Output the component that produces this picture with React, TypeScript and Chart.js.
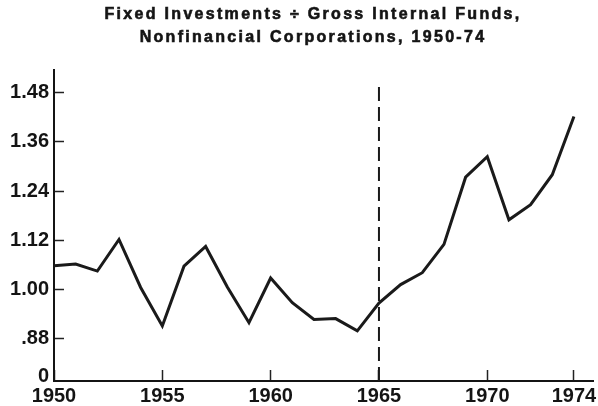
import React, { useEffect, useRef } from 'react';
import { Chart, registerables } from 'chart.js';

Chart.register(...registerables);

// ---- Data ----
const years = [
  1950, 1951, 1952, 1953, 1954, 1955, 1956, 1957, 1958, 1959,
  1960, 1961, 1962, 1963, 1964, 1965, 1966, 1967, 1968, 1969,
  1970, 1971, 1972, 1973, 1974,
];
const ratio = [
  1.058, 1.062, 1.045, 1.122, 1.005, 0.911, 1.057, 1.105, 1.006, 0.919,
  1.028, 0.968, 0.927, 0.929, 0.899, 0.967, 1.012, 1.041, 1.110, 1.274,
  1.324, 1.170, 1.207, 1.280, 1.422,
];
const xTickValues = [1950, 1955, 1960, 1965, 1970, 1974];
const yTickValues = [0.789, 0.88, 1.0, 1.12, 1.24, 1.36, 1.48];
const yTickLabels = ['0', '.88', '1.00', '1.12', '1.24', '1.36', '1.48'];
const markerYear = 1965;
const markerRange = [0.7768, 1.504];
const titleLines = [
  'Fixed Investments \u00F7 Gross Internal Funds,',
  'Nonfinancial Corporations, 1950-74',
];

const Y_MIN = 0.7768;
const Y_MAX = 1.5355;
const X_MIN = 1950;
const X_MAX = 1974.88;

const FONT = '"Liberation Sans", Arial, Helvetica, sans-serif';
const INK = '#141414';

const spacedTitle = {
  id: 'spacedTitle',
  afterDraw(chart: any) {
    const ctx = chart.ctx as CanvasRenderingContext2D;
    ctx.save();
    ctx.fillStyle = INK;
    ctx.strokeStyle = INK;
    ctx.lineWidth = 0.6;
    ctx.font = `bold 16px ${FONT}`;
    (ctx as any).letterSpacing = '2.3px';
    ctx.textAlign = 'center';
    ctx.textBaseline = 'alphabetic';
    const cx = 313;
    const ys = [18.5, 41.5];
    titleLines.forEach((t, i) => {
      ctx.fillText(t, cx, ys[i]);
      ctx.strokeText(t, cx, ys[i]);
    });
    ctx.restore();
  },
};

export default function App() {
  const canvasRef = useRef<HTMLCanvasElement | null>(null);

  useEffect(() => {
    document.body.style.margin = '0';
    const canvas = canvasRef.current;
    if (!canvas) return;

    const chart = new Chart(canvas, {
      type: 'line',
      data: {
        datasets: [
          {
            data: years.map((yr, i) => ({ x: yr, y: ratio[i] })),
            borderColor: '#1a1a1a',
            borderWidth: 3,
            pointRadius: 0,
            tension: 0,
            borderJoinStyle: 'miter',
            fill: false,
          },
          {
            data: [
              { x: markerYear, y: markerRange[0] },
              { x: markerYear, y: markerRange[1] },
            ],
            borderColor: '#1a1a1a',
            borderWidth: 2,
            borderDash: [14, 6],
            pointRadius: 0,
            fill: false,
          },
        ],
      },
      options: {
        animation: false,
        responsive: true,
        maintainAspectRatio: false,
        layout: { padding: { top: 70, left: 10, right: 5, bottom: 0 } },
        plugins: {
          legend: { display: false },
          tooltip: { enabled: false },
          title: { display: false },
        },
        scales: {
          x: {
            type: 'linear',
            min: X_MIN,
            max: X_MAX,
            afterBuildTicks: (scale: any) => {
              scale.ticks = xTickValues.map((v) => ({ value: v }));
            },
            afterFit: (scale: any) => {
              scale.height = 24;
              scale.paddingLeft = 0;
              scale.paddingRight = 0;
            },
            ticks: {
              autoSkip: false,
              maxRotation: 0,
              padding: 16,
              color: INK,
              font: { family: FONT, size: 20, weight: 'bold', lineHeight: 1.0 },
              callback: (v: any) => String(v),
            },
            grid: {
              drawOnChartArea: false,
              drawTicks: true,
              tickLength: -11,
              tickWidth: 1.5,
              tickColor: '#222',
            },
            border: { display: true, color: INK, width: 2 },
          },
          y: {
            type: 'linear',
            min: Y_MIN,
            max: Y_MAX,
            afterBuildTicks: (scale: any) => {
              scale.ticks = yTickValues.map((v) => ({ value: v }));
            },
            afterFit: (scale: any) => {
              scale.width = 44;
            },
            ticks: {
              autoSkip: false,
              padding: 15,
              color: INK,
              font: { family: FONT, size: 20, weight: 'bold', lineHeight: 1.0 },
              callback: (v: any) => {
                const i = yTickValues.indexOf(v);
                return i >= 0 ? yTickLabels[i] : '';
              },
            },
            grid: {
              drawOnChartArea: false,
              drawTicks: true,
              tickLength: -10,
              tickWidth: 1.5,
              tickColor: (ctx: any) => (ctx.index === 0 ? 'rgba(0,0,0,0)' : '#222'),
            },
            border: { display: true, color: INK, width: 2 },
          },
        },
      } as any,
      plugins: [spacedTitle],
    });

    return () => chart.destroy();
  }, []);

  return (
    <div style={{ position: 'relative', width: 598, height: 406 }}>
      <canvas ref={canvasRef} />
    </div>
  );
}
